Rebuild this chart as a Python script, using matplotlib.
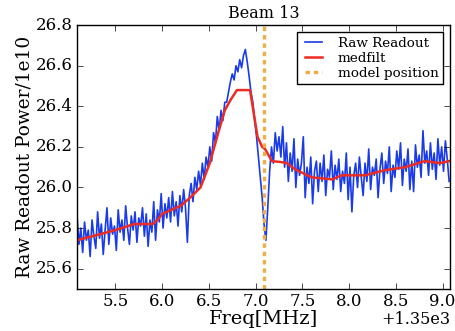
import numpy as np
import matplotlib
matplotlib.use("Agg")
import matplotlib.pyplot as plt

# frequency grid, MHz above 1350
FREQ_START = 5.09
FREQ_STEP = 0.02
OFFSET = 1350.0

raw_readout = [
    25.86, 25.72, 25.80, 25.68, 25.83, 25.74, 25.79, 25.66, 25.84, 25.76,
    25.70, 25.88, 25.75, 25.82, 25.67, 25.79, 25.90, 25.72, 25.85, 25.77,
    25.81, 25.69, 25.89, 25.78, 25.84, 25.74, 25.91, 25.80, 25.72, 25.86,
    25.79, 25.88, 25.73, 25.85, 25.81, 25.90, 25.76, 25.87, 25.71, 25.84,
    25.78, 25.93, 25.74, 25.89, 25.83, 25.97, 25.80, 25.92, 25.85, 25.95,
    25.83, 25.98, 25.86, 25.93, 25.81, 25.96, 25.88, 25.99, 25.90, 25.73,
    25.96, 26.02, 25.93, 26.05, 25.99, 26.08, 26.01, 26.12, 26.04, 26.15,
    26.10, 26.20, 26.13, 26.27, 26.22, 26.35, 26.28, 26.38, 26.33, 26.42,
    26.42, 26.47, 26.52, 26.56, 26.53, 26.60, 26.57, 26.63, 26.59, 26.65,
    26.68, 26.62, 26.55, 26.47, 26.42, 26.33, 26.25, 26.15, 26.05, 25.95,
    25.82, 25.74, 25.90, 26.08, 26.20, 26.12, 26.27, 26.18, 26.25, 26.15,
    26.30, 26.10, 26.22, 26.03, 26.17, 26.08, 26.24, 26.00, 26.14, 26.06,
    26.12, 26.25, 25.95, 26.10, 26.02, 26.15, 25.92, 26.08, 26.13, 25.98,
    26.12, 26.03, 26.16, 25.96, 26.09, 26.05, 26.18, 25.99, 26.11, 26.04,
    26.14, 25.98, 26.08, 26.02, 26.17, 25.94, 26.10, 25.88, 26.06, 26.12,
    26.00, 26.15, 26.05, 25.96, 26.12, 26.03, 26.19, 25.99, 26.10, 26.06,
    26.14, 25.95, 26.09, 26.17, 26.02, 26.13, 26.07, 26.20, 25.98, 26.11,
    26.05, 26.18, 26.09, 26.22, 26.01, 26.14, 26.08, 26.19, 25.99, 26.13,
    25.98, 26.21, 26.10, 26.16, 26.05, 26.28, 26.12, 26.18, 26.06, 26.22,
    26.09, 26.17, 26.04, 26.24, 26.11, 26.20, 26.08, 26.23, 26.14, 26.03,
]

medfilt_freq = [5.09, 5.5, 5.7, 5.9, 5.95, 6.0, 6.1, 6.2, 6.3, 6.41, 6.51,
                6.60, 6.67, 6.73, 6.80, 6.94, 6.975, 7.02, 7.07, 7.10, 7.175,
                7.28, 7.335, 7.42, 7.60, 7.82, 7.92, 8.08, 8.17, 8.38, 8.595,
                8.81, 8.97, 9.07]
medfilt_vals = [25.74, 25.79, 25.82, 25.82, 25.84, 25.87, 25.89, 25.91, 25.95,
                26.00, 26.12, 26.27, 26.38, 26.43, 26.48, 26.48, 26.38, 26.25,
                26.20, 26.19, 26.13, 26.125, 26.12, 26.09, 26.05, 26.04, 26.06,
                26.06, 26.06, 26.085, 26.10, 26.13, 26.12, 26.13]

model_position = 7.09

plt.style.use("classic")
plt.rcParams["font.family"] = "serif"
plt.rcParams["font.serif"] = ["DejaVu Serif"]
plt.rcParams["figure.facecolor"] = "white"

freq = OFFSET + FREQ_START + FREQ_STEP * np.arange(len(raw_readout))

fig = plt.figure(figsize=(4.56, 3.31), dpi=100)
ax = fig.add_axes([0.169, 0.127, 0.818, 0.797])

ax.plot(freq, raw_readout, color="#1a3be8", lw=1.2, label="Raw Readout")
ax.plot(OFFSET + np.array(medfilt_freq), medfilt_vals, color="#ec2b22", lw=1.8,
        label="medfilt")
ax.axvline(OFFSET + model_position, color="#f0ae48", lw=2.4, ls="--",
           dashes=(3.2, 2.8), label="model position")

ax.set_xlim(freq[0], freq[-1] + 0.01)
ax.set_ylim(25.5, 26.8)
ax.set_xticks(OFFSET + np.arange(5.5, 9.01, 0.5))
ax.set_yticks(np.arange(25.6, 26.81, 0.2))
ax.tick_params(labelsize=12, length=4, pad=3)

# offset text drawn by hand so it sits where the reference has it
ax.xaxis.get_offset_text().set_visible(False)
fig.text(0.987, 1 - 324 / 331, "+1.35e3", ha="right", va="baseline",
         fontsize=11.5)

ax.set_title("Beam 13", fontsize=11.5)
ax.set_xlabel("Freq[MHz]", fontsize=14, labelpad=0)
ax.set_ylabel("Raw Readout Power/1e10", fontsize=13.3, labelpad=2)

leg = ax.legend(loc="upper right", fontsize=9.7, handlelength=1.8,
                handletextpad=0.9, labelspacing=0.15, borderaxespad=0.5,
                borderpad=0.35)
leg.get_frame().set_linewidth(1.0)

fig.savefig("out.png", dpi=100)
